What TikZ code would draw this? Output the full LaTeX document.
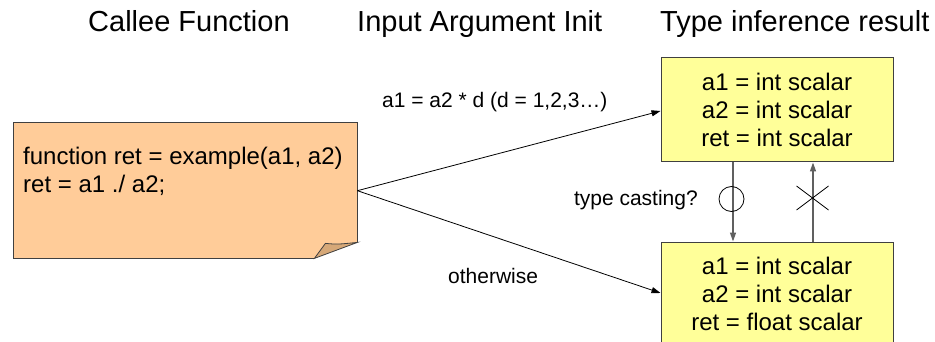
\documentclass[tikz,border=0pt]{standalone}
\usepackage{fontspec}
\setmainfont{Liberation Sans}
\usetikzlibrary{arrows.meta}
\definecolor{notefill}{HTML}{FFCC99}
\definecolor{foldfill}{HTML}{D6A878}
\definecolor{boxfill}{HTML}{FFFF99}
\definecolor{edgegray}{HTML}{404040}
\definecolor{arrgray}{HTML}{606060}
\tikzset{
  title/.style={font=\fontsize{29}{33}\selectfont, inner sep=0, anchor=base west},
  lbl/.style={font=\fontsize{21}{25}\selectfont, inner sep=0},
  notetxt/.style={font=\fontsize{24}{28}\selectfont, inner sep=0, anchor=base west},
  resbox/.style={draw=edgegray, line width=1pt, fill=boxfill, minimum width=232, minimum height=104,
    inner sep=0, align=center, font=\fontsize{24}{28.3}\selectfont},
  tip/.style={-{Triangle[length=9,width=6]}},
}
\begin{document}
\begin{tikzpicture}[x=1pt,y=-1pt]
\useasboundingbox (0,0) rectangle (935,342);
% titles
\node[title] (t1) at (88,32) {Callee Function};
\node[title] (t2) at (357,32) {Input Argument Init};
\node[title] (t3) at (660,32) {Type inference result};
% note
\node[minimum width=344, minimum height=135, inner sep=0, anchor=north west] (note) at (13,123) {};
\fill[notefill] (note.north west) -- (note.north east) -- ([yshift=16]note.south east)
  -- ([xshift=-43]note.south east) -- (note.south west) -- cycle;
\draw[edgegray, line width=1pt] ([yshift=16]note.south east) -- (note.north east) -- (note.north west)
  -- (note.south west) -- ([xshift=-43]note.south east);
\draw[edgegray, line width=0.8pt, fill=foldfill] ([xshift=-43]note.south east)
  .. controls ([xshift=-38,yshift=8]note.south east) .. ([xshift=-32,yshift=15]note.south east)
  .. controls ([xshift=-20,yshift=14]note.south east) .. ([yshift=16]note.south east) -- cycle;
\node[notetxt] (n1) at (23,165) {function ret = example(a1, a2)};
\node[notetxt] (n2) at (23,193) {ret = a1 ./ a2;};
% result boxes
\node[resbox] (top) at (777,110) {a1 = int scalar\\a2 = int scalar\\ret = int scalar};
\node[resbox] (bot) at (777,294) {a1 = int scalar\\a2 = int scalar\\ret = float scalar};
% diagonal arrows
\draw[tip, line width=0.8pt] (note.east) -- ([yshift=-1]top.west);
\draw[tip, line width=0.8pt] (note.east) -- ([yshift=1]bot.west);
\node[lbl, anchor=base west] (l1) at (382,108) {a1 = a2 * d (d = 1,2,3…)};
\node[lbl, anchor=base west] (l2) at (448,283) {otherwise};
\node[lbl, anchor=base east] (l3) at (698,205) {type casting?};
% vertical arrows
\draw[tip, arrgray, line width=1.3pt] ([xshift=-44]top.south) -- ([xshift=-44]bot.north);
\draw[tip, arrgray, line width=1.3pt] ([xshift=36]bot.north) -- ([xshift=36]top.south);
\node[draw, circle, minimum size=25, inner sep=0, line width=0.8pt] (ok) at (731.5,199) {};
\coordinate (xc) at (812.5,198);
\draw[line width=0.8pt] ([xshift=-16,yshift=-12]xc) -- ([xshift=16,yshift=12]xc);
\draw[line width=0.8pt] ([xshift=-16,yshift=12]xc) -- ([xshift=16,yshift=-12]xc);
\end{tikzpicture}
\end{document}
